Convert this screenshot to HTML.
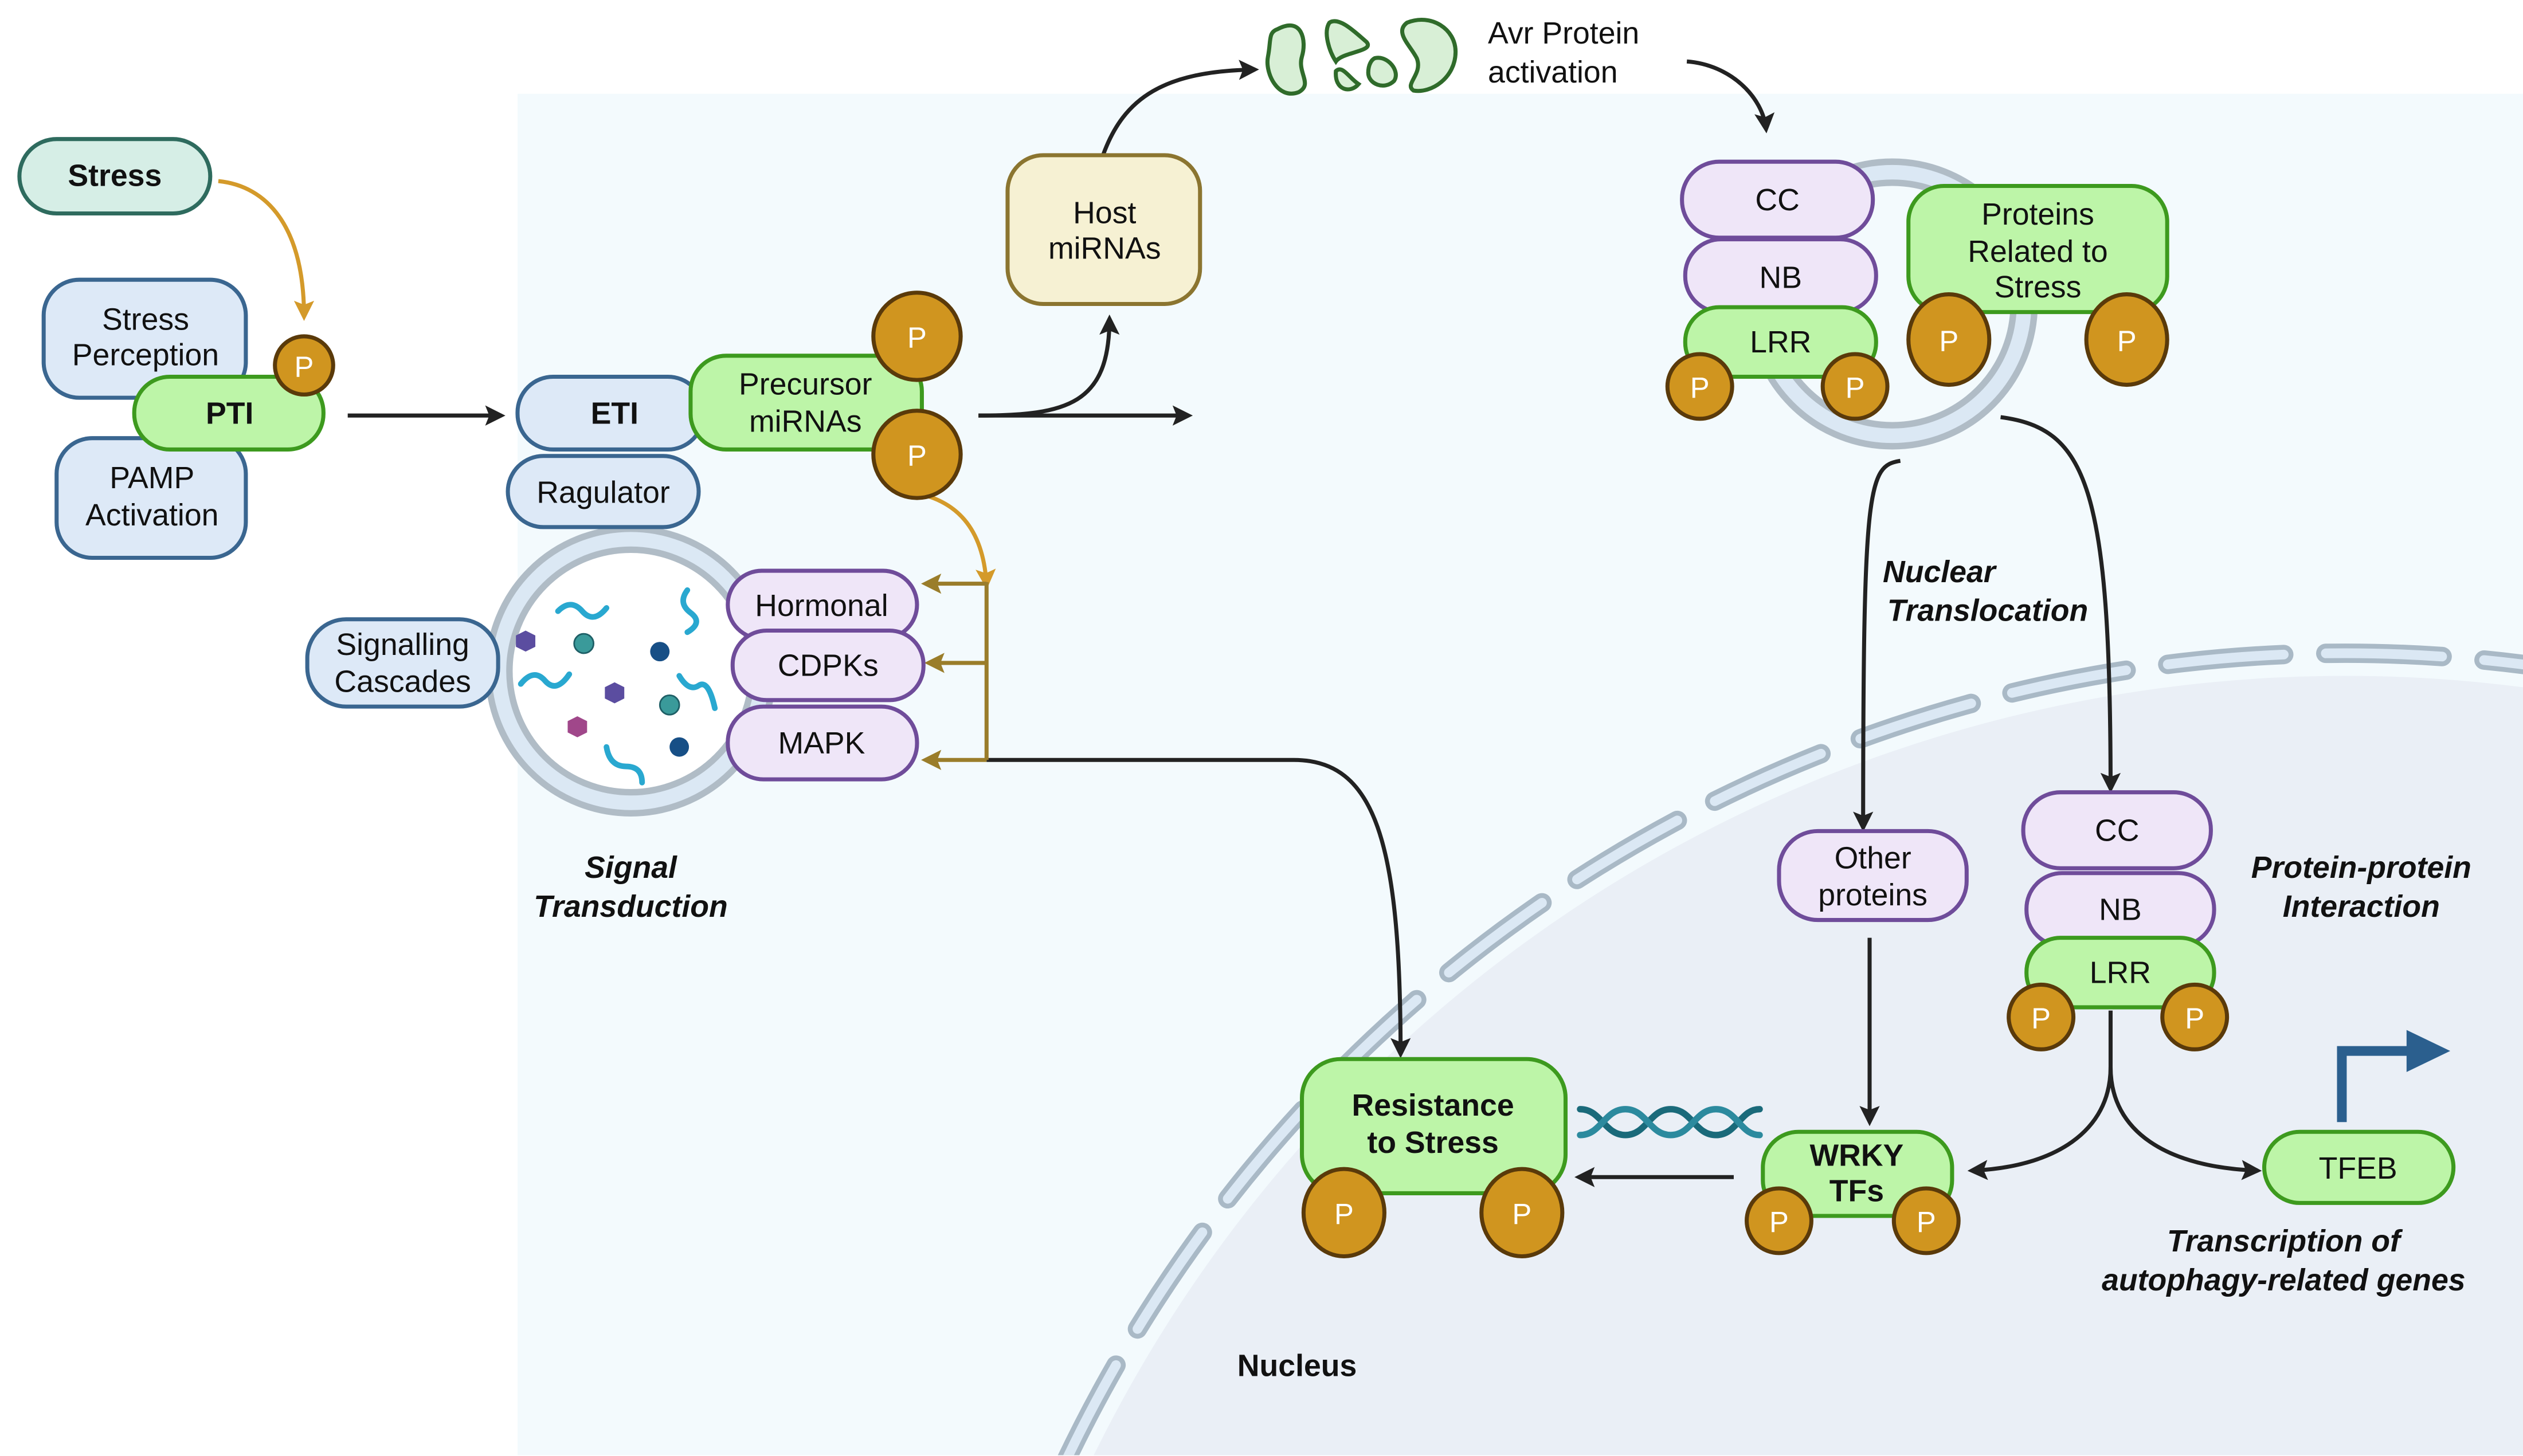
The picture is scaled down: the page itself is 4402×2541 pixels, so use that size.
<!DOCTYPE html>
<html><head><meta charset="utf-8"><style>
html,body{margin:0;padding:0;background:#fff;overflow:hidden;width:4402px;height:2541px;}
svg{display:block;}
text{font-family:"Liberation Sans",sans-serif;fill:#111;}
</style></head><body>
<svg width="4402" height="2541" viewBox="0 0 1560 900.5" preserveAspectRatio="none" xmlns="http://www.w3.org/2000/svg">
<defs>
<marker id="ab" viewBox="0 0 10 10" refX="8" refY="5" markerWidth="5" markerHeight="5" orient="auto"><path d="M0,0L10,5L0,10L2,5z" fill="#222"/></marker>
<marker id="ag" viewBox="0 0 10 10" refX="8" refY="5" markerWidth="5" markerHeight="5" orient="auto"><path d="M0,0L10,5L0,10L2,5z" fill="#d49a2a"/></marker>
<marker id="ao" viewBox="0 0 10 10" refX="8" refY="5" markerWidth="5" markerHeight="5" orient="auto"><path d="M0,0L10,5L0,10L2,5z" fill="#9a7d2a"/></marker>
<clipPath id="pc"><rect x="320" y="58" width="1240" height="842"/></clipPath>
</defs>
<rect x="320" y="58" width="1240" height="842" fill="#f3fafd"/>
<g clip-path="url(#pc)">
<circle cx="1450" cy="1280" r="862" fill="#eaeff6"/>
<circle cx="1450" cy="1280" r="876" fill="none" stroke="#a9b9c6" stroke-width="12" stroke-dasharray="72 26" stroke-linecap="round"/>
<circle cx="1450" cy="1280" r="876" fill="none" stroke="#dbe8f4" stroke-width="6" stroke-dasharray="72 26" stroke-linecap="round"/>
</g>

<!-- vesicles -->
<circle cx="390" cy="415" r="88" fill="#dbe8f4" stroke="#b0bcc6" stroke-width="4"/>
<circle cx="390" cy="415" r="75" fill="#fff" stroke="#b0bcc6" stroke-width="4"/>
<circle cx="1170" cy="188" r="88" fill="#dbe8f4" stroke="#b0bcc6" stroke-width="4"/>
<circle cx="1170" cy="188" r="75" fill="#f3fafd" stroke="#b0bcc6" stroke-width="4"/>

<g fill="none" stroke="#29a8d0" stroke-width="3.5" stroke-linecap="round">
<path d="M345,378q8,-8 15,0t15,-2"/><path d="M425,365q-6,8 2,14t-2,12"/>
<path d="M322,423q8,-10 15,-2t15,-4"/><path d="M420,418q6,10 12,6t10,14"/>
<path d="M375,462q2,12 12,12t10,10"/>
</g>
<circle cx="361" cy="398" r="6" fill="#3a9a9a" stroke="#1e5f66"/><circle cx="408" cy="403" r="6" fill="#174f86"/>
<circle cx="414" cy="436" r="6" fill="#3a9a9a" stroke="#1e5f66"/><circle cx="420" cy="462" r="6" fill="#174f86"/>
<polygon points="325,390 331,393 331,400 325,403 319,400 319,393" fill="#5b4da0"/>
<polygon points="380,422 386,425 386,432 380,435 374,432 374,425" fill="#5b4da0"/>
<polygon points="357,443 363,446 363,453 357,456 351,453 351,446" fill="#a0478a"/>

<g fill="none" stroke="#222" stroke-width="2.5">
<path d="M215,257H310" marker-end="url(#ab)"/>
<path d="M605,257H735" marker-end="url(#ab)"/>
<path d="M605,257C660,257 686,250 686,197" marker-end="url(#ab)"/>
<path d="M682,96C695,60 720,44 776,43" marker-end="url(#ab)"/>
<path d="M1043,38C1070,40 1090,60 1092,80" marker-end="url(#ab)"/>
<path d="M1175,285C1155,288 1152,300 1152,512" marker-end="url(#ab)"/>
<path d="M1237,258C1290,265 1305,300 1305,488" marker-end="url(#ab)"/>
<path d="M1156,580V694" marker-end="url(#ab)"/>
<path d="M1305,625V660C1305,700 1270,722 1219,724" marker-end="url(#ab)"/>
<path d="M1305,660C1305,700 1340,722 1396,724" marker-end="url(#ab)"/>
<path d="M1072,728H976" marker-end="url(#ab)"/>
<path d="M610,470H800C850,470 866,520 866,652" marker-end="url(#ab)"/>
</g>
<path d="M135,112C165,115 188,140 188,196" fill="none" stroke="#d49a2a" stroke-width="2.5" marker-end="url(#ag)"/>
<path d="M567,305C590,310 608,325 610,362" fill="none" stroke="#d49a2a" stroke-width="2.5" marker-end="url(#ag)"/>
<g fill="none" stroke="#9a7d2a" stroke-width="2.5">
<path d="M610,360V470"/>
<path d="M610,361H572" marker-end="url(#ao)"/>
<path d="M610,410H574" marker-end="url(#ao)"/>
<path d="M610,470H572" marker-end="url(#ao)"/>
</g>
<path d="M1448,694V650H1492" fill="none" stroke="#2b5f8e" stroke-width="6"/>
<polygon points="1488,637 1515,650 1488,663" fill="#2b5f8e"/>
<g fill="none" stroke-width="4" stroke-linecap="round">
<path d="M977,686C990,686 992,702 1005,702S1020,686 1033,686S1048,702 1061,702S1076,686 1088,686" stroke="#1a6a7a"/>
<path d="M977,702C990,702 992,686 1005,686S1020,702 1033,702S1048,686 1061,686S1076,702 1088,702" stroke="#2c8a9e"/>
</g>
<g fill="#d8efd6" stroke="#2f6b2a" stroke-width="2.5">
<path d="M790,18C805,10 808,25 805,35C802,45 812,52 803,57C790,62 782,45 784,35C786,25 784,20 790,18z"/>
<path d="M822,14C828,10 838,20 845,26C850,32 830,32 826,38C822,32 818,20 822,14z"/>
<path d="M826,44C830,40 834,48 840,52C835,58 825,56 826,44z"/>
<path d="M850,36C858,34 866,44 862,50C856,56 846,52 846,45C846,40 848,37 850,36z"/>
<path d="M870,14C885,8 900,18 900,32C900,48 885,58 874,56C868,52 880,46 876,36C872,28 862,20 870,14z"/>
</g>

<g stroke-width="2.5">
<rect x="12" y="86" width="118" height="46" rx="23" fill="#d6eee6" stroke="#2e6b5e"/>
<rect x="27" y="173" width="125" height="73" rx="22" fill="#dde9f7" stroke="#3a6690"/>
<rect x="35" y="271" width="117" height="74" rx="22" fill="#dde9f7" stroke="#3a6690"/>
<rect x="83" y="233" width="117" height="45" rx="22" fill="#bdf5a8" stroke="#3d9a1e"/>
<rect x="320" y="233" width="115" height="45" rx="22" fill="#dde9f7" stroke="#3a6690"/>
<rect x="314" y="282" width="118" height="44" rx="22" fill="#dde9f7" stroke="#3a6690"/>
<rect x="427" y="220" width="143" height="58" rx="22" fill="#bdf5a8" stroke="#3d9a1e"/>
<rect x="623" y="96" width="119" height="92" rx="22" fill="#f6f1d3" stroke="#8b7530"/>
<rect x="190" y="383" width="118" height="54" rx="24" fill="#dde9f7" stroke="#3a6690"/>
<rect x="450" y="353" width="117" height="42" rx="21" fill="#efe6f8" stroke="#6f4c9a"/>
<rect x="453" y="390" width="118" height="43" rx="21" fill="#efe6f8" stroke="#6f4c9a"/>
<rect x="450" y="437" width="117" height="45" rx="22" fill="#efe6f8" stroke="#6f4c9a"/>
<rect x="1040" y="100" width="118" height="47" rx="23" fill="#efe6f8" stroke="#6f4c9a"/>
<rect x="1042" y="148" width="118" height="45" rx="22" fill="#efe6f8" stroke="#6f4c9a"/>
<rect x="1042" y="190" width="118" height="43" rx="21" fill="#bdf5a8" stroke="#3d9a1e"/>
<rect x="1180" y="115" width="160" height="78" rx="22" fill="#bdf5a8" stroke="#3d9a1e"/>
<rect x="1100" y="514" width="116" height="55" rx="24" fill="#efe6f8" stroke="#6f4c9a"/>
<rect x="1251" y="490" width="116" height="47" rx="23" fill="#efe6f8" stroke="#6f4c9a"/>
<rect x="1253" y="540" width="116" height="45" rx="22" fill="#efe6f8" stroke="#6f4c9a"/>
<rect x="1253" y="580" width="116" height="43" rx="21" fill="#bdf5a8" stroke="#3d9a1e"/>
<rect x="1400" y="700" width="117" height="44" rx="22" fill="#bdf5a8" stroke="#3d9a1e"/>
<rect x="1090" y="700" width="117" height="52" rx="22" fill="#bdf5a8" stroke="#3d9a1e"/>
<rect x="805" y="655" width="163" height="83" rx="24" fill="#bdf5a8" stroke="#3d9a1e"/>
</g>
<g fill="#d0951f" stroke="#5a3a0a" stroke-width="2.5">
<circle cx="188" cy="226" r="18"/>
<circle cx="567" cy="208" r="27"/><circle cx="567" cy="281" r="27"/>
<circle cx="1051" cy="239" r="20"/><circle cx="1147" cy="239" r="20"/>
<ellipse cx="1205" cy="210" rx="25" ry="28"/><ellipse cx="1315" cy="210" rx="25" ry="28"/>
<circle cx="1262" cy="629" r="20"/><circle cx="1357" cy="629" r="20"/>
<circle cx="1100" cy="755" r="20"/><circle cx="1191" cy="755" r="20"/>
<ellipse cx="831" cy="750" rx="25" ry="27"/><ellipse cx="941" cy="750" rx="25" ry="27"/>
</g>
<g font-size="18" text-anchor="middle">
<text x="188" y="233" style="fill:#fff">P</text>
<text x="567" y="215" style="fill:#fff">P</text><text x="567" y="288" style="fill:#fff">P</text>
<text x="1051" y="246" style="fill:#fff">P</text><text x="1147" y="246" style="fill:#fff">P</text>
<text x="1205" y="217" style="fill:#fff">P</text><text x="1315" y="217" style="fill:#fff">P</text>
<text x="1262" y="636" style="fill:#fff">P</text><text x="1357" y="636" style="fill:#fff">P</text>
<text x="1100" y="762" style="fill:#fff">P</text><text x="1191" y="762" style="fill:#fff">P</text>
<text x="831" y="757" style="fill:#fff">P</text><text x="941" y="757" style="fill:#fff">P</text>
</g>
<g font-size="19" text-anchor="middle">
<text x="71" y="115" font-weight="bold">Stress</text>
<text x="90" y="204">Stress</text><text x="90" y="226">Perception</text>
<text x="94" y="302">PAMP</text><text x="94" y="325">Activation</text>
<text x="142" y="262" font-weight="bold">PTI</text>
<text x="380" y="262" font-weight="bold">ETI</text>
<text x="373" y="311">Ragulator</text>
<text x="498" y="244">Precursor</text><text x="498" y="267">miRNAs</text>
<text x="683" y="138">Host</text><text x="683" y="160">miRNAs</text>
<text x="249" y="405">Signalling</text><text x="249" y="428">Cascades</text>
<text x="508" y="381">Hormonal</text>
<text x="512" y="418">CDPKs</text>
<text x="508" y="466">MAPK</text>
<text x="1099" y="130">CC</text><text x="1101" y="178">NB</text><text x="1101" y="218">LRR</text>
<text x="1260" y="139">Proteins</text><text x="1260" y="162">Related to</text><text x="1260" y="184">Stress</text>
<text x="1158" y="537">Other</text><text x="1158" y="560">proteins</text>
<text x="1309" y="520">CC</text><text x="1311" y="569">NB</text><text x="1311" y="608">LRR</text>
<text x="1458" y="729">TFEB</text>
<text x="1148" y="721" font-weight="bold">WRKY</text><text x="1148" y="743" font-weight="bold">TFs</text>
<text x="886" y="690" font-weight="bold">Resistance</text><text x="886" y="713" font-weight="bold">to Stress</text>
<text x="802" y="851" font-weight="bold">Nucleus</text>
</g>
<g font-size="19" text-anchor="start">
<text x="920" y="27">Avr Protein</text><text x="920" y="51">activation</text>
</g>
<g font-size="19" font-weight="bold" font-style="italic" text-anchor="middle">
<text x="390" y="543">Signal</text><text x="390" y="567">Transduction</text>
<text x="1199" y="360">Nuclear</text><text x="1229" y="384">Translocation</text>
<text x="1460" y="543">Protein-protein</text><text x="1460" y="567">Interaction</text>
<text x="1412" y="774">Transcription of</text><text x="1412" y="798">autophagy-related genes</text>
</g>
</svg>
</body></html>
